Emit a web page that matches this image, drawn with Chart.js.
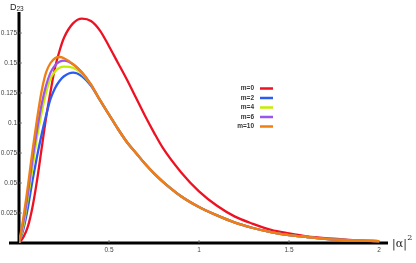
<!DOCTYPE html>
<html>
<head>
<meta charset="utf-8">
<script src="https://cdn.jsdelivr.net/npm/chart.js@4.4.1/dist/chart.umd.min.js"></script>
<style>
html,body{margin:0;padding:0;background:#fff;}
#wrap{width:416px;height:263px;position:relative;}
</style>
</head>
<body>
<div id="wrap"><canvas id="c" width="416" height="263"></canvas></div>
<script>
// ---- data ----
const xGrid = [0, 0.025, 0.05, 0.075, 0.1, 0.125, 0.15, 0.175, 0.2, 0.225, 0.25, 0.3, 0.35, 0.4, 0.45, 0.5, 0.55, 0.6, 0.65, 0.7, 0.75, 0.8, 0.9, 1.0, 1.1, 1.2, 1.3, 1.4, 1.5, 1.6, 1.7, 1.8, 1.9, 2.0];
const yM0  = [0, 0.005, 0.014, 0.030, 0.052, 0.078, 0.104, 0.126, 0.146, 0.160, 0.171, 0.183, 0.187, 0.185, 0.177, 0.164, 0.150, 0.136, 0.121, 0.106, 0.092, 0.079, 0.059, 0.043, 0.031, 0.022, 0.016, 0.011, 0.008, 0.0055, 0.004, 0.003, 0.002, 0.0015];
const yM2  = [0, 0.012, 0.030, 0.052, 0.072, 0.090, 0.106, 0.120, 0.129, 0.135, 0.139, 0.142, 0.139, 0.131, 0.119, 0.107, 0.095, 0.084, 0.075, 0.066, 0.058, 0.051, 0.039, 0.030, 0.023, 0.017, 0.0125, 0.009, 0.0065, 0.005, 0.0035, 0.0025, 0.002, 0.0015];
const yM4  = [0, 0.015, 0.038, 0.063, 0.088, 0.108, 0.125, 0.137, 0.143, 0.146, 0.147, 0.146, 0.141, 0.132, 0.119, 0.107, 0.095, 0.084, 0.075, 0.066, 0.058, 0.051, 0.039, 0.030, 0.023, 0.017, 0.0125, 0.009, 0.0065, 0.005, 0.0035, 0.0025, 0.002, 0.0015];
const yM6  = [0, 0.018, 0.042, 0.070, 0.094, 0.115, 0.131, 0.142, 0.148, 0.151, 0.152, 0.149, 0.142, 0.132, 0.119, 0.107, 0.095, 0.084, 0.075, 0.066, 0.058, 0.051, 0.039, 0.030, 0.023, 0.017, 0.0125, 0.009, 0.0065, 0.005, 0.0035, 0.0025, 0.002, 0.0015];
const yM10 = [0, 0.022, 0.048, 0.077, 0.103, 0.126, 0.142, 0.150, 0.154, 0.155, 0.154, 0.149, 0.142, 0.132, 0.119, 0.107, 0.095, 0.084, 0.075, 0.066, 0.058, 0.051, 0.039, 0.030, 0.023, 0.017, 0.0125, 0.009, 0.0065, 0.005, 0.0035, 0.0025, 0.002, 0.0015];
const seriesNames = ['m=0', 'm=2', 'm=4', 'm=6', 'm=10'];
const seriesColors = ['#ee1122', '#2a5cf5', '#c4ee00', '#9a55ee', '#f07f12'];
const xTickVals = [0.5, 1, 1.5, 2];
const xTickLabels = ['0.5', '1', '1.5', '2'];
const yTickVals = [0.025, 0.05, 0.075, 0.1, 0.125, 0.15, 0.175];
const yTickLabels = ['0.025', '0.05', '0.075', '0.1', '0.125', '0.15', '0.175'];
const yAxisTitle = ['D', '23'];
const xAxisTitle = ['|\u03B1|', '2'];

const allY = [yM0, yM2, yM4, yM6, yM10];
const datasets = allY.map((ys, i) => ({
  label: seriesNames[i],
  data: xGrid.map((x, k) => ({x: x, y: ys[k]})),
  borderColor: seriesColors[i],
  borderWidth: 2.3,
  pointRadius: 0,
  fill: false,
  cubicInterpolationMode: 'monotone',
  order: allY.length - i
}));

const tickFont = {family: 'Liberation Sans', size: 6.5};

const decor = {
  id: 'decor',
  beforeDatasetsDraw(chart) {
    const ctx = chart.ctx, a = chart.chartArea;
    const xs = chart.scales.x, ys = chart.scales.y;
    ctx.save();
    ctx.strokeStyle = '#000';
    ctx.lineWidth = 3;
    const y0 = ys.getPixelForValue(0);
    const x0 = xs.getPixelForValue(0);
    ctx.beginPath();
    ctx.moveTo(a.left - 10, y0); ctx.lineTo(a.right, y0);
    ctx.moveTo(x0, a.top); ctx.lineTo(x0, y0 + 1.5);
    ctx.stroke();
    // small tick marks
    ctx.lineWidth = 0.8;
    ctx.strokeStyle = '#666';
    ctx.beginPath();
    yTickVals.forEach(v => { const p = ys.getPixelForValue(v); ctx.moveTo(x0, p); ctx.lineTo(x0 + 3, p); });
    xTickVals.forEach(v => { const p = xs.getPixelForValue(v); ctx.moveTo(p, y0); ctx.lineTo(p, y0 - 3); });
    ctx.stroke();
    ctx.restore();
  },
  afterDatasetsDraw(chart) {
    const ctx = chart.ctx;
    ctx.save();
    // axis titles
    ctx.fillStyle = '#222';
    ctx.textBaseline = 'alphabetic';
    ctx.font = '9px "Liberation Sans"';
    ctx.fillText(yAxisTitle[0], 10, 10);
    const dw = ctx.measureText(yAxisTitle[0]).width;
    ctx.font = '6.5px "Liberation Sans"';
    ctx.fillText(yAxisTitle[1], 10 + dw, 11);
    ctx.font = '11px "DejaVu Serif"';
    ctx.fillText(xAxisTitle[0], 392, 247);
    const aw = ctx.measureText(xAxisTitle[0]).width;
    ctx.font = '8px "DejaVu Serif"';
    ctx.fillText(xAxisTitle[1], 392 + aw + 0.5, 240);
    // legend
    const rowY = 88.5, rowH = 9.5;
    seriesNames.forEach((n, i) => {
      const y = rowY + i * rowH;
      ctx.font = 'bold 6.5px "Liberation Sans"';
      ctx.fillStyle = '#333';
      ctx.textAlign = 'right';
      ctx.textBaseline = 'middle';
      ctx.fillText(n, 254, y);
      ctx.strokeStyle = seriesColors[i];
      ctx.lineWidth = 2.5;
      ctx.beginPath();
      ctx.moveTo(260, y); ctx.lineTo(273, y);
      ctx.stroke();
    });
    ctx.restore();
  }
};

new Chart(document.getElementById('c'), {
  type: 'line',
  data: {datasets: datasets},
  options: {
    responsive: false,
    devicePixelRatio: 1,
    animation: false,
    layout: {padding: {left: 0, right: 28, top: 12, bottom: 0}},
    plugins: {legend: {display: false}, tooltip: {enabled: false}},
    scales: {
      x: {
        type: 'linear', min: 0, max: 2.05,
        grid: {display: false, drawTicks: false},
        border: {display: false},
        afterFit(s) { s.height = 20; },
        afterBuildTicks(s) { s.ticks = xTickVals.map(v => ({value: v})); },
        ticks: {
          padding: 3, font: tickFont, color: '#444', maxRotation: 0, autoSkip: false,
          callback(v) { const i = xTickVals.indexOf(v); return i >= 0 ? xTickLabels[i] : ''; }
        }
      },
      y: {
        type: 'linear', min: 0, max: 0.1925,
        grid: {display: false, drawTicks: false},
        border: {display: false},
        afterFit(s) { s.width = 19; },
        afterBuildTicks(s) { s.ticks = yTickVals.map(v => ({value: v})); },
        ticks: {
          padding: 2, font: tickFont, color: '#444', autoSkip: false,
          callback(v) { const i = yTickVals.indexOf(v); return i >= 0 ? yTickLabels[i] : ''; }
        }
      }
    }
  },
  plugins: [decor]
});
</script>
</body>
</html>
